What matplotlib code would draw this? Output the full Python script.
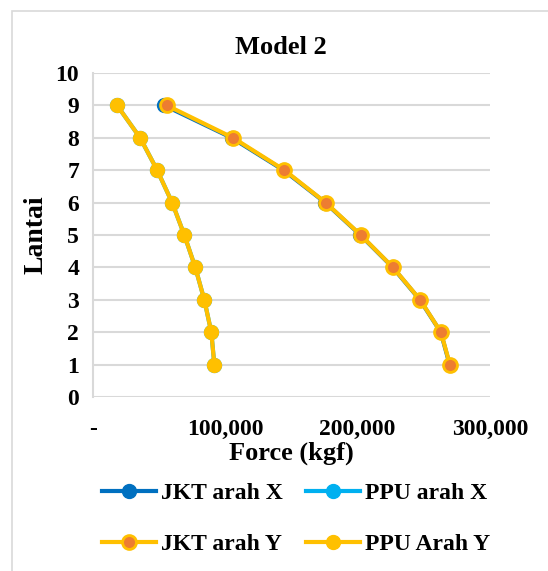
import numpy as np
import matplotlib.pyplot as plt

plt.rcParams['font.family'] = ['Liberation Serif', 'DejaVu Serif']
plt.rcParams['font.weight'] = 'bold'

lantai = [9, 8, 7, 6, 5, 4, 3, 2, 1]
jkt_x = [53800, 104800, 144000, 175500, 202000, 226500, 247000, 262800, 269500]
ppu_x = [18200, 35600, 48500, 59800, 69000, 77300, 84100, 89400, 91700]
jkt_y = [55800, 105800, 144700, 175800, 202300, 226700, 247200, 262900, 269700]
ppu_y = [18200, 35600, 48500, 59800, 69000, 77300, 84100, 89400, 91700]

fig = plt.figure(figsize=(5.48, 5.71), dpi=100)
ax = fig.add_axes([93/548, 1-397/571, 397/548, 324/571])

l1, = ax.plot(jkt_x, lantai, color='#0070C0', lw=3, marker='o', ms=10, label='JKT arah X')
l2, = ax.plot(ppu_x, lantai, color='#00B0F0', lw=3, marker='o', ms=10, label='PPU arah X')
l3, = ax.plot(jkt_y, lantai, color='#FFC000', lw=3, marker='o', ms=10,
              markerfacecolor='#ED7D31', markeredgecolor='#FFC000', markeredgewidth=2, label='JKT arah Y')
l4, = ax.plot(ppu_y, lantai, color='#FFC000', lw=3, marker='o', ms=10, label='PPU Arah Y')

ax.set_xlim(0, 300000)
ax.set_ylim(0, 10)
ax.set_yticks(range(0, 11))
ax.set_xticks([0, 100000, 200000, 300000])
ax.set_xticklabels(['-', '100,000', '200,000', '300,000'])
ax.grid(axis='y', color='#D9D9D9', lw=1.5)
ax.set_axisbelow(True)
for s in ['top', 'right', 'bottom']:
    ax.spines[s].set_visible(False)
ax.spines['left'].set_color('#D9D9D9')
ax.spines['left'].set_linewidth(1.5)
ax.tick_params(length=0, labelsize=17, pad=10)
ax.tick_params(axis='x', pad=16)

ax.set_title('Model 2', fontsize=19, fontweight='bold', pad=14, x=0.474)
ax.set_xlabel('Force (kgf)', fontsize=19, fontweight='bold', labelpad=1)
ax.set_ylabel('Lantai', fontsize=20, fontweight='bold', labelpad=5)

handles = [l1, l3, l2, l4]
fig.legend(handles, [h.get_label() for h in handles], loc='center',
           bbox_to_anchor=(0.540, 0.091), ncol=2, frameon=False,
           fontsize=17, handlelength=2.3, columnspacing=1.0, labelspacing=1.25,
           handletextpad=0.2)

fig.patches.append(plt.Rectangle((12/548, -0.01), 1.1, 1 - 11/571 + 0.01, transform=fig.transFigure,
                                 fill=False, edgecolor='#D9D9D9', lw=1.2))
fig.savefig('out.png', dpi=100)
